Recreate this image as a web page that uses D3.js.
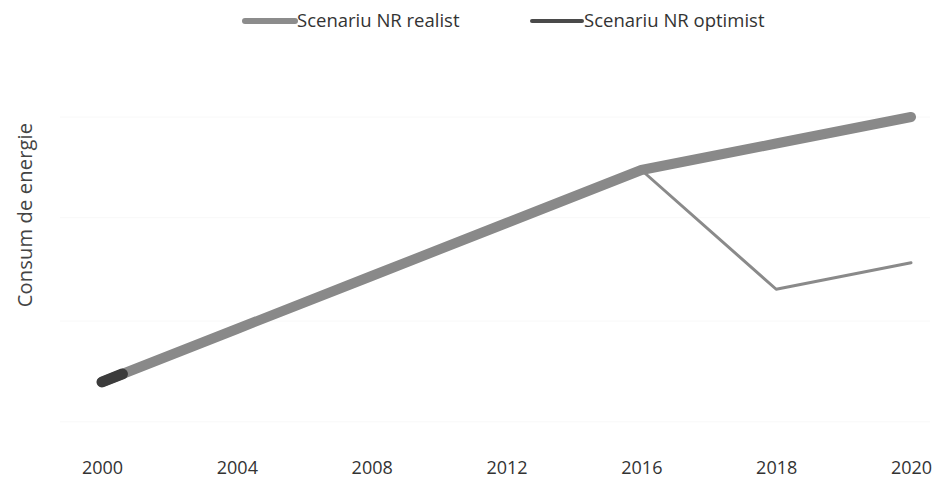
<!DOCTYPE html>
<html>
<head>
<meta charset="utf-8">
<script src="https://cdn.jsdelivr.net/npm/d3@7"></script>
<style>
  html, body { margin: 0; padding: 0; background: #fff; }
  svg { display: block; font-family: "Open Sans", "Lato", sans-serif; }
</style>
</head>
<body>
<svg id="chart" width="937" height="479"></svg>
<script>
// Energy consumption scenarios (relative units)
const years = ["2000", "2004", "2008", "2012", "2016", "2018", "2020"];
const realist = [0, 1, 2, 3, 4, 4.5, 5];
const optimist = [0, 1, 2, 3, 4, 1.75, 2.25];
const yTicks = [-0.75, 1.15, 3.1, 5];
const seriesNames = ["Scenariu NR realist", "Scenariu NR optimist"];

const svg = d3.select("#chart");

const x = d3.scalePoint().domain(years).range([102, 911]);
const y = d3.scaleLinear().domain([0, 5]).range([382, 117]);

// faint horizontal gridlines
svg.append("g").selectAll("line").data(yTicks).join("line")
  .attr("x1", 60).attr("x2", 930)
  .attr("y1", d => y(d)).attr("y2", d => y(d))
  .attr("stroke", "#f8f8f8").attr("stroke-width", 1);

// x-axis labels
const xAxis = d3.axisBottom(x).tickSize(0).tickPadding(0);
const gx = svg.append("g").attr("transform", "translate(0,458)").call(xAxis);
gx.select(".domain").remove();
gx.selectAll("text")
  .attr("font-family", "Open Sans, sans-serif")
  .attr("font-size", 18).attr("fill", "#333").attr("dy", "0.9em");

// y-axis title
svg.append("text")
  .attr("transform", "translate(32,215) rotate(-90)")
  .attr("text-anchor", "middle")
  .attr("font-size", 20).attr("fill", "#444")
  .attr("letter-spacing", 0.2)
  .text("Consum de energie");

const line = d3.line().x((d, i) => x(years[i])).y(d => y(d));

// optimist scenario (thin)
svg.append("path").datum(optimist)
  .attr("d", line).attr("fill", "none")
  .attr("stroke", "#8a8a8a").attr("stroke-width", 3)
  .attr("stroke-linejoin", "round").attr("stroke-linecap", "round");

// realist scenario (thick)
svg.append("path").datum(realist)
  .attr("d", line).attr("fill", "none")
  .attr("stroke", "#898989").attr("stroke-width", 10)
  .attr("stroke-linejoin", "round").attr("stroke-linecap", "round");

// dark start segment of the optimist series at the first year
const x0 = x(years[0]), y0 = y(optimist[0]);
const x1 = x(years[1]), y1 = y(optimist[1]);
const len = Math.hypot(x1 - x0, y1 - y0);
const seg = 22;
svg.append("line")
  .attr("x1", x0).attr("y1", y0)
  .attr("x2", x0 + (x1 - x0) / len * seg).attr("y2", y0 + (y1 - y0) / len * seg)
  .attr("stroke", "#3c3c3c").attr("stroke-width", 11).attr("stroke-linecap", "round");

// legend
const legend = [
  { name: seriesNames[0], x: 245, color: "#8c8c8c", w: 6 },
  { name: seriesNames[1], x: 532, color: "#4a4a4a", w: 4 }
];
const lg = svg.append("g").selectAll("g").data(legend).join("g")
  .attr("transform", d => `translate(${d.x},21)`);
lg.append("line").attr("x1", 0).attr("x2", 50).attr("y1", 0).attr("y2", 0)
  .attr("stroke", d => d.color).attr("stroke-width", d => d.w)
  .attr("stroke-linecap", "round");
lg.append("text").attr("x", 52).attr("y", 0).attr("dy", "0.35em")
  .attr("font-size", 18.5).attr("fill", "#333")
  .text(d => d.name);
</script>
</body>
</html>
